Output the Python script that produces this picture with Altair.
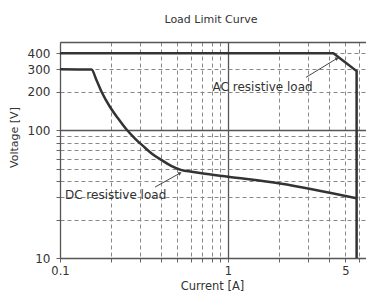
import altair as alt
import pandas as pd

# AC resistive load curve
ac_current = [0.1, 4.24, 5.83, 5.83]
ac_voltage = [400, 400, 290, 10]

# DC resistive load curve
dc_current = [0.1, 0.154, 0.165, 0.177, 0.1985, 0.222, 0.249, 0.2795, 0.313, 0.351, 0.403,
              0.462, 0.53, 0.608, 0.697, 1.0, 2.04, 5.83]
dc_voltage = [300, 298, 246, 199, 152, 123.4, 101.3, 86.1, 75, 65.8, 58.3,
              52.3, 48.7, 47.3, 46.0, 43.2, 38.3, 29.3]

# annotations
ann_text = ["AC resistive load", "DC resistive load"]
ann_current = [0.81, 0.107]
ann_voltage = [217, 31.1]

# leader lines (start, end)
lead_id = ["ac", "ac", "dc", "dc"]
lead_end = [False, True, False, True]
lead_current = [2.91, 4.46, 0.368, 0.518]
lead_voltage = [259, 365, 35.9, 46.1]

x_ticks = [0.1, 0.2, 0.3, 0.4, 0.5, 0.6, 0.7, 0.8, 0.9, 1, 2, 3, 4, 5, 6]
x_labels = [0.1, 1, 5]
y_ticks = [10, 20, 30, 40, 50, 60, 70, 80, 90, 100, 200, 300, 400, 490]
y_labels = [10, 100, 200, 300, 400]

X_DOM = [0.1, 6.63]
Y_DOM = [10, 490]
FONT = "DejaVu Sans"
TXT = "#333333"

ac = pd.DataFrame({"I": ac_current, "V": ac_voltage, "order": range(len(ac_current))})
dc = pd.DataFrame({"I": dc_current, "V": dc_voltage, "order": range(len(dc_current))})
ann = pd.DataFrame({"t": ann_text, "I": ann_current, "V": ann_voltage})
lead = pd.DataFrame({"id": lead_id, "end": lead_end, "I": lead_current, "V": lead_voltage})

xlab_expr = "indexof([" + ",".join(str(v) for v in x_labels) + "], datum.value) >= 0 ? datum.label : ''"
ylab_expr = "indexof([" + ",".join(str(v) for v in y_labels) + "], datum.value) >= 0 ? datum.label : ''"

x_axis = alt.Axis(
    values=x_ticks, labelExpr=xlab_expr, title="Current [A]",
    grid=True,
    gridDash={"condition": {"test": "datum.value === 1", "value": [1, 0]}, "value": [4, 3]},
    gridColor={"condition": {"test": "datum.value === 1", "value": "#555555"}, "value": "#888888"},
    gridWidth={"condition": {"test": "datum.value === 1", "value": 1.3}, "value": 1},
    domainColor="#555555", domainWidth=1.3,
    tickColor="#666666", tickSize=4, labelPadding=3,
    labelFont=FONT, labelFontSize=11.5, labelColor=TXT, labelFlush=False,
    titleFont=FONT, titleFontSize=11.5, titleFontWeight="normal", titleColor=TXT,
    titleX=152, titleY=28, titleAlign="center", titleBaseline="middle",
)
y_axis = alt.Axis(
    values=y_ticks, labelExpr=ylab_expr, title="Voltage [V]",
    grid=True,
    gridDash={"condition": {"test": "datum.value === 100 || datum.value === 490", "value": [1, 0]}, "value": [4, 3]},
    gridColor={"condition": {"test": "datum.value === 100 || datum.value === 490", "value": "#555555"}, "value": "#888888"},
    gridWidth={"condition": {"test": "datum.value === 100 || datum.value === 490", "value": 1.3}, "value": 1},
    tickOpacity={"condition": {"test": "datum.value === 490", "value": 0}, "value": 1},
    domainColor="#555555", domainWidth=1.3,
    tickColor="#666666", tickSize=4, labelPadding=6,
    labelFont=FONT, labelFontSize=12, labelColor=TXT, labelFlush=False,
    titleFont=FONT, titleFontSize=11, titleFontWeight="normal", titleColor=TXT,
    titleX=-46, titleY=95, titleAngle=-90, titleAlign="center", titleBaseline="middle",
)

xs = alt.Scale(type="log", domain=X_DOM, nice=False)
ys = alt.Scale(type="log", domain=Y_DOM, nice=False)

base_ac = alt.Chart(ac).mark_line(color="#333333", strokeWidth=2.5, clip=True).encode(
    x=alt.X("I:Q", scale=xs, axis=x_axis),
    y=alt.Y("V:Q", scale=ys, axis=y_axis),
    order="order:Q",
)
dc_line = alt.Chart(dc).mark_line(color="#333333", strokeWidth=2.5, clip=True, interpolate="monotone").encode(
    x=alt.X("I:Q", scale=xs), y=alt.Y("V:Q", scale=ys), order="order:Q"
)
lead_line = alt.Chart(lead).mark_line(color="#444444", strokeWidth=1).encode(
    x=alt.X("I:Q", scale=xs), y=alt.Y("V:Q", scale=ys), detail="id:N"
)
ac_head = alt.Chart(lead).transform_filter("datum.end && datum.id === 'ac'").mark_point(
    shape="triangle-up", filled=True, color="#444444", size=16, angle=58, opacity=1
).encode(x=alt.X("I:Q", scale=xs), y=alt.Y("V:Q", scale=ys))
dc_head = alt.Chart(lead).transform_filter("datum.end && datum.id === 'dc'").mark_point(
    shape="triangle-up", filled=True, color="#444444", size=16, angle=61, opacity=1
).encode(x=alt.X("I:Q", scale=xs), y=alt.Y("V:Q", scale=ys))
labels = alt.Chart(ann).mark_text(
    align="left", baseline="middle", font=FONT, fontSize=12, color=TXT
).encode(x=alt.X("I:Q", scale=xs), y=alt.Y("V:Q", scale=ys), text="t:N")

chart = alt.layer(base_ac, dc_line, lead_line, ac_head, dc_head, labels).properties(
    width=306, height=216,
    title=alt.TitleParams("Load Limit Curve", font=FONT, fontSize=11, fontWeight="normal",
                          color=TXT, anchor="middle", dx=-2, offset=17),
    autosize=alt.AutoSizeParams(type="none"),
    padding={"left": 52, "top": 34, "right": 0, "bottom": 34},
).configure_view(stroke=None).configure(background="white")

chart.save("out.html", embed_options={"renderer": "svg", "actions": False})
